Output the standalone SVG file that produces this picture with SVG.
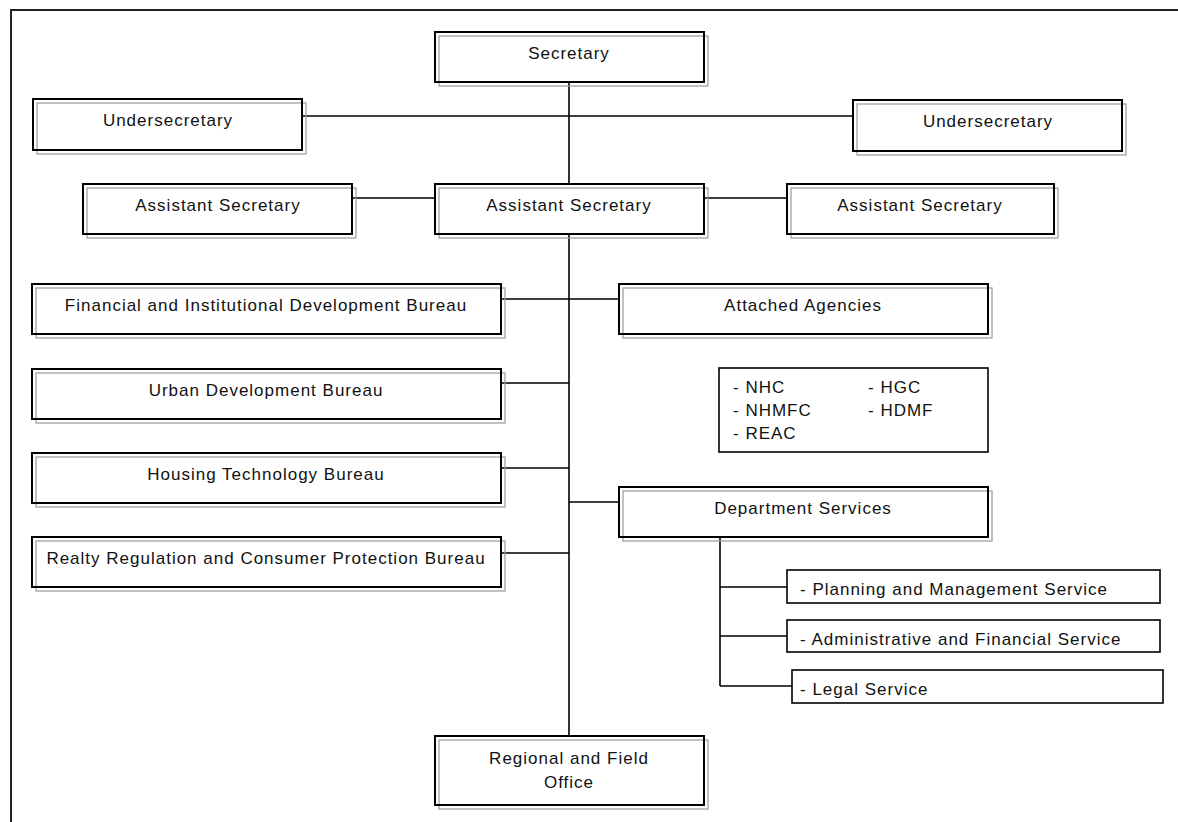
<svg xmlns="http://www.w3.org/2000/svg" width="1178" height="822" viewBox="0 0 1178 822">
<style>
.bg{fill:#fff}
.sh{fill:none;stroke:#9a9a9a;stroke-width:1.2}
.bx{fill:none;stroke:#000;stroke-width:2}
.pl{fill:none;stroke:#000;stroke-width:1.6}
.ln{fill:none;stroke:#000;stroke-width:1.6}
.fr{fill:none;stroke:#222;stroke-width:2}
text{font-family:"Liberation Sans",Arial,sans-serif;font-size:17px;fill:#111;letter-spacing:1px}
.c{text-anchor:middle}
</style>
<rect class="bg" x="0" y="0" width="1178" height="822"/>
<path class="fr" d="M11,822 V10 H1178"/>
<g id="connectors">
<path class="ln" d="M569,82 V184 M569,234 V736"/>
<path class="ln" d="M302,116 H853"/>
<path class="ln" d="M352,198 H435 M704,198 H787"/>
<path class="ln" d="M501,299 H619"/>
<path class="ln" d="M501,383 H569"/>
<path class="ln" d="M501,468 H569"/>
<path class="ln" d="M569,502 H619"/>
<path class="ln" d="M501,553 H569"/>
<path class="ln" d="M720,537 V686 M720,587 H787 M720,636 H787 M720,686 H792"/>
</g>
<g id="secretary"><rect class="sh" x="439" y="36" width="269" height="50"/><rect class="bx" x="435" y="32" width="269" height="50"/><text class="c" x="569" y="59">Secretary</text></g>
<g id="undersecretary-left"><rect class="sh" x="37" y="103" width="269" height="51"/><rect class="bx" x="33" y="99" width="269" height="51"/><text class="c" x="168" y="126">Undersecretary</text></g>
<g id="undersecretary-right"><rect class="sh" x="857" y="104" width="269" height="51"/><rect class="bx" x="853" y="100" width="269" height="51"/><text class="c" x="988" y="127">Undersecretary</text></g>
<g id="asst-left"><rect class="sh" x="87" y="188" width="269" height="50"/><rect class="bx" x="83" y="184" width="269" height="50"/><text class="c" x="218" y="211">Assistant Secretary</text></g>
<g id="asst-mid"><rect class="sh" x="439" y="188" width="269" height="50"/><rect class="bx" x="435" y="184" width="269" height="50"/><text class="c" x="569" y="211">Assistant Secretary</text></g>
<g id="asst-right"><rect class="sh" x="791" y="188" width="267" height="50"/><rect class="bx" x="787" y="184" width="267" height="50"/><text class="c" x="920" y="211">Assistant Secretary</text></g>
<g id="fidb"><rect class="sh" x="36" y="288" width="469" height="50"/><rect class="bx" x="32" y="284" width="469" height="50"/><text class="c" x="266" y="311">Financial and Institutional Development Bureau</text></g>
<g id="attached"><rect class="sh" x="623" y="288" width="369" height="50"/><rect class="bx" x="619" y="284" width="369" height="50"/><text class="c" x="803" y="311">Attached Agencies</text></g>
<g id="agencies-list"><rect class="pl" x="719" y="368" width="269" height="84"/>
<text x="733" y="393">- NHC</text><text x="868" y="393">- HGC</text>
<text x="733" y="416">- NHMFC</text><text x="868" y="416">- HDMF</text>
<text x="733" y="439">- REAC</text></g>
<g id="udb"><rect class="sh" x="36" y="373" width="469" height="50"/><rect class="bx" x="32" y="369" width="469" height="50"/><text class="c" x="266" y="396">Urban Development Bureau</text></g>
<g id="htb"><rect class="sh" x="36" y="457" width="469" height="50"/><rect class="bx" x="32" y="453" width="469" height="50"/><text class="c" x="266" y="480">Housing Technology Bureau</text></g>
<g id="dept-services"><rect class="sh" x="623" y="491" width="369" height="50"/><rect class="bx" x="619" y="487" width="369" height="50"/><text class="c" x="803" y="514">Department Services</text></g>
<g id="rrcpb"><rect class="sh" x="36" y="541" width="469" height="50"/><rect class="bx" x="32" y="537" width="469" height="50"/><text class="c" x="266" y="564">Realty Regulation and Consumer Protection Bureau</text></g>
<g id="planning"><rect class="pl" x="787" y="570" width="373" height="33"/><text x="800" y="595">- Planning and Management Service</text></g>
<g id="admin"><rect class="pl" x="787" y="620" width="373" height="32"/><text x="800" y="645">- Administrative and Financial Service</text></g>
<g id="legal"><rect class="pl" x="792" y="670" width="371" height="33"/><text x="800" y="695">- Legal Service</text></g>
<g id="regional"><rect class="sh" x="439" y="740" width="269" height="69"/><rect class="bx" x="435" y="736" width="269" height="69"/><text class="c" x="569" y="764">Regional and Field</text><text class="c" x="569" y="788">Office</text></g>
</svg>
